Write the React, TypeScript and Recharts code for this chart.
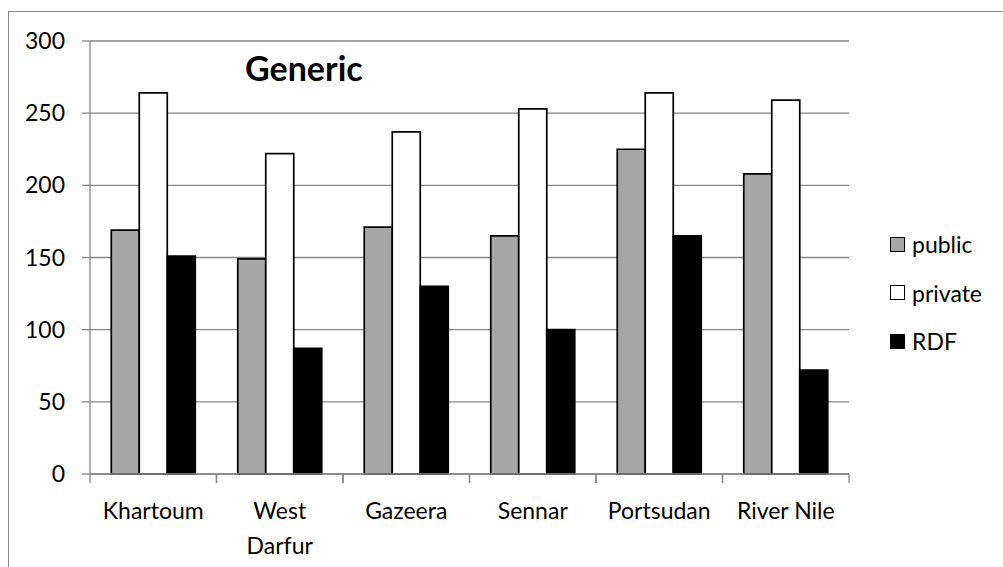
import { BarChart, Bar, XAxis, YAxis, CartesianGrid, Legend } from "recharts";

const categories = ["Khartoum", "West Darfur", "Gazeera", "Sennar", "Portsudan", "River Nile"];
const tickLabels = [["Khartoum"], ["West", "Darfur"], ["Gazeera"], ["Sennar"], ["Portsudan"], ["River Nile"]];
const seriesKeys = ["public", "private", "RDF"];
const publicValues = [169, 149, 171, 165, 225, 208];
const privateValues = [264, 222, 237, 253, 264, 259];
const rdfValues = [151, 87, 130, 100, 165, 72];
const yTicks = [0, 50, 100, 150, 200, 250, 300];

const chartData = categories.map((name, i) => ({
  name,
  public: publicValues[i],
  private: privateValues[i],
  RDF: rdfValues[i],
}));

const axisGray = "#868686";
const fontSize = 23;

function CategoryTick(props: any) {
  const { x, y, payload, index } = props;
  const half = payload?.offset ?? 63.25;
  const lines = tickLabels[index] ?? [String(payload.value)];
  return (
    <g>
      <line x1={x - half} y1={y} x2={x - half} y2={y + 9} stroke={axisGray} strokeWidth={1.3} />
      <line x1={x + half} y1={y} x2={x + half} y2={y + 9} stroke={axisGray} strokeWidth={1.3} />
      {lines.map((line: string, i: number) => (
        <text
          key={line}
          x={x}
          y={y + 36 + i * 35}
          textAnchor="middle"
          dominantBaseline="central"
          fill="#000"
          fontSize={fontSize}
        >
          {line}
        </text>
      ))}
    </g>
  );
}

function LegendContent(props: any) {
  const items = [...(props.payload ?? [])].sort(
    (a: any, b: any) => seriesKeys.indexOf(a.value) - seriesKeys.indexOf(b.value)
  );
  return (
    <div style={{ fontFamily: "Lato", fontSize, color: "#000" }}>
      {items.map((item: any) => (
        <div key={item.value} style={{ display: "flex", alignItems: "center", height: 48.5 }}>
          <span
            style={{
              display: "inline-block",
              width: 15,
              height: 15,
              boxSizing: "border-box",
              border: "1.5px solid #000",
              background: item.color,
              marginRight: 7,
            }}
          />
          <span>{item.value}</span>
        </div>
      ))}
    </div>
  );
}

export default function App() {
  return (
    <div
      style={{
        position: "absolute",
        left: 0,
        top: 0,
        width: 1003,
        height: 567,
        overflow: "hidden",
        background: "#fff",
        fontFamily: "Lato",
      }}
    >
      <div
        style={{
          position: "absolute",
          left: 8,
          top: 11,
          width: 1100,
          height: 700,
          borderTop: `1.5px solid ${axisGray}`,
          borderLeft: `1.5px solid ${axisGray}`,
        }}
      />
      <div style={{ position: "absolute", left: 0, top: 0 }}>
        <BarChart
          width={1003}
          height={567}
          data={chartData}
          margin={{ top: 41, right: 44, left: 30, bottom: 0 }}
          barCategoryGap="16.8%"
          barGap={0}
          style={{ fontFamily: "Lato" }}
        >
          <CartesianGrid vertical={false} stroke={axisGray} strokeWidth={1.3} />
          <XAxis
            dataKey="name"
            height={93}
            axisLine={{ stroke: axisGray, strokeWidth: 1.3 }}
            tickLine={false}
            tickSize={0}
            tickMargin={0}
            interval={0}
            tick={<CategoryTick />}
          />
          <YAxis
            width={60}
            domain={[0, 300]}
            ticks={yTicks}
            tickSize={8}
            tickMargin={17}
            axisLine={{ stroke: axisGray, strokeWidth: 1.3 }}
            tickLine={{ stroke: axisGray, strokeWidth: 1.3 }}
            tick={{ fill: "#000", fontSize }}
          />
          <Legend
            layout="horizontal"
            verticalAlign="middle"
            align="right"
            content={<LegendContent />}
            wrapperStyle={{ left: 890, top: 220, width: 110 }}
          />
          <Bar dataKey="public" fill="#a6a6a6" stroke="#000" strokeWidth={1.7} isAnimationActive={false} />
          <Bar dataKey="private" fill="#ffffff" stroke="#000" strokeWidth={1.7} isAnimationActive={false} />
          <Bar dataKey="RDF" fill="#000000" stroke="#000" strokeWidth={1.7} isAnimationActive={false} />
        </BarChart>
      </div>
      <div
        style={{
          position: "absolute",
          left: 245,
          top: 48,
          lineHeight: "40px",
          fontSize: 34,
          fontWeight: 700,
          color: "#000",
        }}
      >
        Generic
      </div>
    </div>
  );
}
